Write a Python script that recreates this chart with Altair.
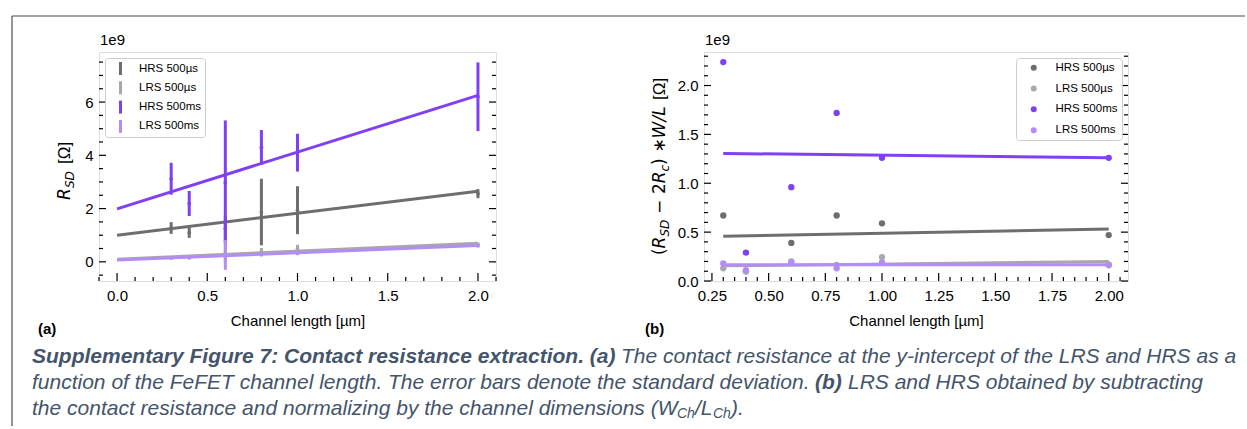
import altair as alt
import pandas as pd
import numpy as np

# ---------------- data (values in units of 1e9 Ω) ----------------
series = ["HRS 500µs", "LRS 500µs", "HRS 500ms", "LRS 500ms"]
colors = ["#6e6e6e", "#a8a8a8", "#7f3ff2", "#b48cf6"]

lengths = [0.3, 0.4, 0.6, 0.8, 1.0, 2.0]

# panel (a): mean R_SD and its standard deviation
a_hrs_us_mean = [1.27, 1.10, 1.25, 1.87, 1.94, 2.56]
a_hrs_us_std = [0.22, 0.20, 0.50, 1.25, 0.90, 0.17]
a_lrs_us_mean = [0.15, 0.15, 0.30, 0.37, 0.50, 0.66]
a_lrs_us_std = [0.05, 0.05, 0.30, 0.15, 0.14, 0.06]
a_hrs_ms_mean = [3.12, 2.19, 2.98, 4.30, 4.10, 6.20]
a_hrs_ms_std = [0.60, 0.47, 2.33, 0.65, 0.71, 1.29]
a_lrs_ms_mean = [0.15, 0.17, 0.26, 0.28, 0.33, 0.60]
a_lrs_ms_std = [0.05, 0.05, 0.56, 0.08, 0.08, 0.05]

# panel (a): linear fits
fit_a_x = [0.0, 2.0]
fit_a_hrs_us = [1.00, 2.65]
fit_a_lrs_us = [0.10, 0.70]
fit_a_hrs_ms = [1.99, 6.25]
fit_a_lrs_ms = [0.07, 0.61]

# panel (b): (R_SD - 2Rc) * W/L
b_hrs_us = [0.67, 0.10, 0.39, 0.67, 0.59, 0.47]
b_lrs_us = [0.13, 0.10, 0.20, 0.165, 0.245, 0.17]
b_hrs_ms = [2.24, 0.29, 0.96, 1.72, 1.26, 1.26]
b_lrs_ms = [0.18, 0.11, 0.19, 0.13, 0.19, 0.16]

fit_b_x = [0.3, 2.0]
fit_b_hrs_us = [0.457, 0.533]
fit_b_lrs_us = [0.155, 0.200]
fit_b_hrs_ms = [1.305, 1.262]
fit_b_lrs_ms = [0.165, 0.165]

# tick values
a_x_major = [0.0, 0.5, 1.0, 1.5, 2.0]
a_y_major = [0, 2, 4, 6]
b_x_major = [0.25, 0.5, 0.75, 1.0, 1.25, 1.5, 1.75, 2.0]
b_y_major = [0.0, 0.5, 1.0, 1.5, 2.0]

# ---------------- tables ----------------
a_means = [a_hrs_us_mean, a_lrs_us_mean, a_hrs_ms_mean, a_lrs_ms_mean]
a_stds = [a_hrs_us_std, a_lrs_us_std, a_hrs_ms_std, a_lrs_ms_std]
a_fits = [fit_a_hrs_us, fit_a_lrs_us, fit_a_hrs_ms, fit_a_lrs_ms]
b_vals = [b_hrs_us, b_lrs_us, b_hrs_ms, b_lrs_ms]
b_fits = [fit_b_hrs_us, fit_b_lrs_us, fit_b_hrs_ms, fit_b_lrs_ms]

rows = []
for s, m, sd in zip(series, a_means, a_stds):
    for x, mv, sv in zip(lengths, m, sd):
        rows.append({"s": s, "x": x, "y": mv, "lo": mv - sv, "hi": mv + sv})
df_a = pd.DataFrame(rows)
df_afit = pd.DataFrame([{"s": s, "x": x, "y": y} for s, f in zip(series, a_fits) for x, y in zip(fit_a_x, f)])
df_b = pd.DataFrame([{"s": s, "x": x, "y": y} for s, v in zip(series, b_vals) for x, y in zip(lengths, v)])
df_bfit = pd.DataFrame([{"s": s, "x": x, "y": y} for s, f in zip(series, b_fits) for x, y in zip(fit_b_x, f)])

color_scale = alt.Scale(domain=series, range=colors)
FONT = "Liberation Sans"
MATH = "DejaVu Sans"
CAPF = "Liberation Sans"
CAP = "#44546a"
one = pd.DataFrame({"k": [0]})


def minor(lo, hi, step, major):
    vals = np.round(np.arange(lo, hi + step / 2, step), 4)
    return [float(v) for v in vals if not any(abs(v - m) < 1e-6 for m in major)]


def text_at(txt, x, y, size=15, font=FONT, style="normal", weight="normal", color="black",
            angle=0, align="left", baseline="middle"):
    return alt.Chart(one).mark_text(
        text=txt, font=font, fontSize=size, fontStyle=style, fontWeight=weight,
        color=color, angle=angle, align=align, baseline=baseline
    ).encode(x=alt.value(x), y=alt.value(y))


def panel(df_pts, df_fit, xdom, ydom, W, H, xmaj, xmin, ymaj, ymin, xfmt, yfmt, legend, errbars, dot_size):
    xs = alt.Scale(domain=xdom, nice=False, zero=False)
    ys = alt.Scale(domain=ydom, nice=False, zero=False)
    xax = alt.Axis(values=xmaj, format=xfmt, ticks=False, domain=False, grid=False,
                   labelFont=FONT, labelFontSize=15, labelColor="black", labelPadding=7,
                   labelFlush=False, labelOverlap=False,
                   title="Channel length [µm]", titleFont=FONT, titleFontSize=15,
                   titleFontWeight="normal", titleColor="black", titlePadding=10)
    yax = alt.Axis(values=ymaj, format=yfmt, ticks=False, domain=False, grid=False,
                   labelFont=FONT, labelFontSize=15, labelColor="black", labelPadding=6,
                   labelFlush=False, labelOverlap=False, title=None)
    X = alt.X("x:Q", scale=xs, axis=xax)
    Y = alt.Y("y:Q", scale=ys, axis=yax)
    layers = []
    for s in series:
        # the point layer carries the legend and must come first
        layers.append(alt.Chart(df_pts).transform_filter(alt.datum.s == s).mark_circle(size=dot_size, opacity=1).encode(
            x=X, y=Y, color=alt.Color("s:N", scale=color_scale, legend=legend)))
        if errbars:
            layers.append(alt.Chart(df_pts).transform_filter(alt.datum.s == s).mark_rule(strokeWidth=3).encode(
                x=X, y=alt.Y("lo:Q", scale=ys, axis=yax), y2="hi:Q",
                color=alt.Color("s:N", scale=color_scale, legend=legend)))
        layers.append(alt.Chart(df_fit).transform_filter(alt.datum.s == s).mark_line(strokeWidth=3, strokeCap="butt").encode(
            x=X, y=Y, color=alt.Color("s:N", scale=color_scale, legend=legend)))

    # inward ticks
    def yt(vals, x0, x1):
        return alt.Chart(pd.DataFrame({"y": vals})).mark_rule(color="black", strokeWidth=1.2).encode(
            y=Y, x=alt.value(x0), x2=alt.value(x1))

    def xt(vals, y0, y1):
        return alt.Chart(pd.DataFrame({"x": vals})).mark_rule(color="black", strokeWidth=1.2).encode(
            x=X, y=alt.value(y0), y2=alt.value(y1))
    layers += [yt(ymaj, 0, 7), yt(ymin, 0, 4), yt(ymaj, W - 7, W), yt(ymin, W - 4, W),
               xt(xmaj, H - 8, H), xt(xmin, H - 4, H)]
    layers.append(text_at("1e9", 1, -7, size=15, baseline="alphabetic"))
    return layers


W_A, W_B, H = 397, 424, 229

legend_a = alt.Legend(title=None, orient="top-left", offset=6, padding=4,
                      fillColor="rgba(255,255,255,0.8)", strokeColor="#cccccc", cornerRadius=3,
                      symbolType="M-0.23,-1H0.23V1H-0.23Z", symbolSize=169, symbolOffset=5,
                      symbolStrokeWidth=0, rowPadding=6.3, labelFont=FONT, labelFontSize=11.5,
                      labelOffset=12, labelColor="black", labelLimit=200)
legend_b = alt.Legend(title=None, orient="top-right", offset=6, padding=4,
                      fillColor="rgba(255,255,255,0.8)", strokeColor="#cccccc", cornerRadius=3,
                      symbolType="circle", symbolSize=36, symbolOffset=8,
                      symbolStrokeWidth=0, rowPadding=7.8, labelFont=FONT, labelFontSize=11.5,
                      labelOffset=16, labelColor="black", labelLimit=200)

layers_a = panel(df_a, df_afit, [-0.1, 2.1], [-0.72, 7.88], W_A, H,
                 a_x_major, minor(-0.1, 2.1, 0.1, a_x_major), a_y_major, minor(-0.5, 7.5, 0.5, a_y_major),
                 ".1f", "d", legend_a, True, 14)
layers_b = panel(df_b, df_bfit, [0.215, 2.085], [0.0, 2.343], W_B, H,
                 b_x_major, minor(0.25, 2.05, 0.05, b_x_major), b_y_major, minor(0.0, 2.3, 0.1, b_y_major),
                 ".2f", ".1f", legend_b, False, 40)

# y-axis titles (mixed styles)
layers_a += [
    text_at("R", -34, 148, size=17, font=MATH, style="italic", angle=270),
    text_at("SD", -29, 136, size=12, font=MATH, style="italic", angle=270),
    text_at("[Ω]", -34, 112, size=17, angle=270),
]
layers_b += [
    text_at("(", -44, 203, size=17, font=MATH, angle=270),
    text_at("R", -44, 196.4, size=17, font=MATH, style="italic", angle=270),
    text_at("SD", -39, 184.6, size=12, font=MATH, style="italic", angle=270),
    text_at("−", -44, 162, size=17, font=MATH, angle=270),
    text_at("2", -44, 142, size=17, font=MATH, angle=270),
    text_at("R", -44, 131.3, size=17, font=MATH, style="italic", angle=270),
    text_at("c", -39, 119.5, size=12, font=MATH, style="italic", angle=270),
    text_at(")", -44, 112.9, size=17, font=MATH, angle=270),
    text_at("∗", -44, 100.6, size=17, font=MATH, angle=270),
    text_at("W/L", -44, 86.4, size=17, font=MATH, style="italic", angle=270),
    text_at("[Ω]", -44, 48, size=17, angle=270),
    text_at("(b)", -59, 277, size=15, weight="bold"),
]

# panel label, frame and caption (placed relative to panel (a))
cap = dict(font=CAPF, style="italic", color=CAP)
CS = 21
layers_a += [
    text_at("(a)", -61, 277, size=15, weight="bold"),
    alt.Chart(one).mark_rule(color="#4d4d4d", strokeWidth=1.2).encode(
        x=alt.value(-87), x2=alt.value(1146), y=alt.value(-36)),
    alt.Chart(one).mark_rule(color="#4d4d4d", strokeWidth=1.2).encode(
        x=alt.value(-87), y=alt.value(-36), y2=alt.value(374)),
    text_at("Supplementary Figure 7: Contact resistance extraction. (a)", -67, 305, size=CS, weight="bold", **cap),
    text_at("The contact resistance at the y-intercept of the LRS and HRS as a", 522, 305, size=CS, **cap),
    text_at("function of the FeFET channel length. The error bars denote the standard deviation.", -67, 331,
            size=CS, **cap),
    text_at("(b)", 716, 331, size=CS, weight="bold", **cap),
    text_at("LRS and HRS obtained by subtracting", 749, 331, size=CS, **cap),
    text_at("the contact resistance and normalizing by the channel dimensions (W", -67, 357, size=CS, **cap),
    text_at("Ch", 578, 362, size=14, **cap),
    text_at("/L", 596, 357, size=CS, **cap),
    text_at("Ch", 614, 362, size=14, **cap),
    text_at(").", 632, 357, size=CS, **cap),
]

chart_a = alt.layer(*layers_a).properties(width=W_A, height=H)
chart_b = alt.layer(*layers_b).properties(width=W_B, height=H)

chart = alt.hconcat(chart_a, chart_b, spacing=208, bounds="flush").properties(
    padding={"left": 10, "top": 14, "right": 0, "bottom": 0}
).configure_view(stroke="black", strokeWidth=1.5).configure(font=FONT)

chart.save("out.html", embed_options={"renderer": "svg", "actions": False})
